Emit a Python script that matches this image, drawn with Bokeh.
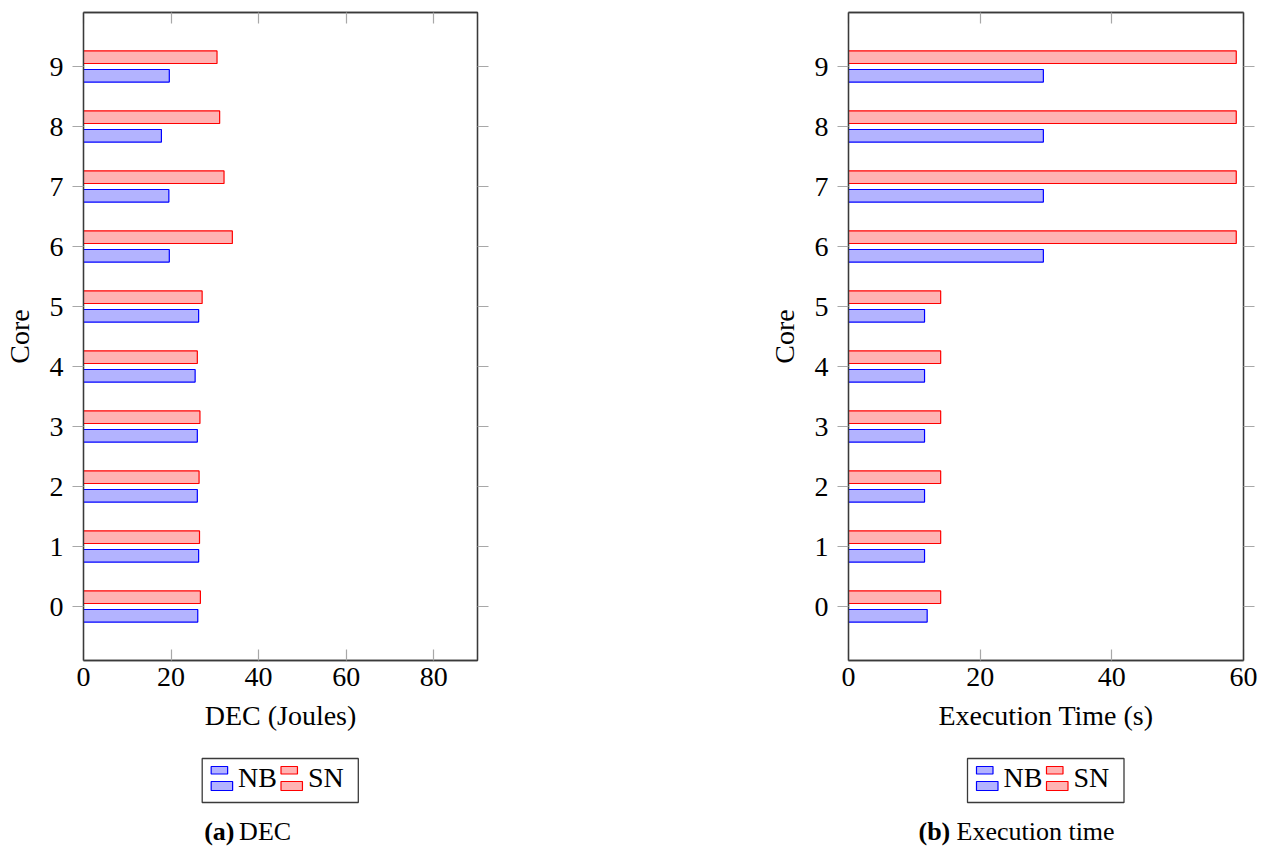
from bokeh.plotting import figure
from bokeh.models import Range1d, LinearAxis, FixedTicker, ColumnDataSource
from bokeh.layouts import row, column
from bokeh.transform import dodge
from bokeh.core.properties import value
from bokeh.embed import file_html
from bokeh.resources import INLINE

# Per-core measurements
cores = [0, 1, 2, 3, 4, 5, 6, 7, 8, 9]
dec_nb = [26.1, 26.3, 26.0, 26.0, 25.5, 26.3, 19.6, 19.5, 17.8, 19.6]
dec_sn = [26.7, 26.5, 26.4, 26.6, 26.0, 27.1, 34.0, 32.1, 31.1, 30.5]
time_nb = [11.95, 11.55, 11.55, 11.55, 11.55, 11.55, 29.6, 29.6, 29.6, 29.6]
time_sn = [14.0, 14.0, 14.0, 14.0, 14.0, 14.0, 58.9, 58.9, 58.9, 58.9]

series_names = ["NB", "SN"]
dec_ticks = [0, 20, 40, 60, 80]
time_ticks = [0, 20, 40, 60]

FONT = "Liberation Serif"
NB_FILL, NB_LINE = "#b3b3ff", "#0000ff"
SN_FILL, SN_LINE = "#ffb3b3", "#ff0000"
FRAME = "#3a3a3a"
TICK = "#a8a8a8"
COL_W, MAIN_H, PAGE_H = 632, 752, 846
KEY_H = PAGE_H - MAIN_H
TEXT_SIZE = "28px"


def style_axis(ax):
    ax.axis_line_color = FRAME
    ax.axis_line_width = 1.3
    ax.major_tick_line_color = TICK
    ax.major_tick_line_width = 1.2
    ax.minor_tick_line_color = None
    ax.major_label_text_font = FONT
    ax.major_label_text_font_size = TEXT_SIZE
    ax.major_label_text_color = "black"
    ax.axis_label_text_font = FONT
    ax.axis_label_text_font_size = TEXT_SIZE
    ax.axis_label_text_font_style = "normal"
    ax.axis_label_text_color = "black"


def mirror_axis(ticks):
    ax = LinearAxis(ticker=FixedTicker(ticks=ticks))
    style_axis(ax)
    ax.major_label_text_color = None
    ax.major_label_text_font_size = "1px"
    ax.major_label_standoff = 0
    return ax


def make_panel(xlabel, xmax, xticks, nb, sn, border_left, border_right):
    src = ColumnDataSource(dict(core=cores, nb=nb, sn=sn))
    p = figure(width=COL_W, height=MAIN_H,
               x_range=Range1d(0, xmax), y_range=Range1d(-0.9, 9.9),
               output_backend="svg", toolbar_location=None,
               min_border_left=border_left, min_border_right=border_right,
               min_border_top=12, min_border_bottom=MAIN_H - 660)
    p.grid.visible = False
    p.outline_line_color = FRAME
    p.outline_line_width = 1.3
    p.background_fill_color = "white"
    p.border_fill_color = "white"

    p.hbar(y=dodge("core", -0.155, range=p.y_range), left=0, right="nb",
           height=0.21, source=src, fill_color=NB_FILL, line_color=NB_LINE,
           line_width=1.2)
    p.hbar(y=dodge("core", 0.155, range=p.y_range), left=0, right="sn",
           height=0.21, source=src, fill_color=SN_FILL, line_color=SN_LINE,
           line_width=1.2)

    # bottom / left axes with labels
    xa = p.xaxis[0]
    xa.ticker = FixedTicker(ticks=xticks)
    xa.axis_label = xlabel
    style_axis(xa)
    xa.major_tick_in = 11
    xa.major_tick_out = 0
    xa.major_label_standoff = 7
    xa.axis_label_standoff = 11

    ya = p.yaxis[0]
    ya.ticker = FixedTicker(ticks=cores)
    ya.axis_label = "Core"
    style_axis(ya)
    ya.major_tick_in = 0
    ya.major_tick_out = 11
    ya.major_label_standoff = 9
    ya.axis_label_standoff = 12

    # mirrored ticks on top and right, without labels
    top = mirror_axis(xticks)
    top.major_tick_in = 11
    top.major_tick_out = 0
    p.add_layout(top, "above")

    right = mirror_axis(cores)
    right.major_tick_in = 0
    right.major_tick_out = 11
    p.add_layout(right, "right")
    return p


def make_key(x0, border_left, border_right, tag, caption, caption_x, caption_gap):
    # data units equal page pixels: x spans the frame, y runs downwards
    k = figure(width=COL_W, height=KEY_H,
               x_range=Range1d(x0 + border_left, x0 + COL_W - border_right),
               y_range=Range1d(PAGE_H, MAIN_H),
               x_axis_type=None, y_axis_type=None,
               output_backend="svg", toolbar_location=None,
               min_border_left=border_left, min_border_right=border_right,
               min_border_top=0, min_border_bottom=0)
    k.grid.visible = False
    k.outline_line_color = None
    cx = x0 + border_left + (COL_W - border_left - border_right) / 2

    # legend box
    k.quad(left=[cx - 78.5], right=[cx + 78], top=[758], bottom=[802],
           fill_color="white", line_color=FRAME, line_width=1.3)
    entries = [(series_names[0], NB_FILL, NB_LINE, cx - 69.5),
               (series_names[1], SN_FILL, SN_LINE, cx + 0.5)]
    for name, fill, line, sx in entries:
        k.quad(left=[sx, sx], right=[sx + 16.5, sx + 21.5],
               top=[766, 781], bottom=[773.5, 790],
               fill_color=fill, line_color=line, line_width=1.2)
        k.text(x=[sx + 27], y=[777], text=[name],
               text_font=value(FONT), text_font_size=TEXT_SIZE,
               text_color="black", text_baseline="middle", text_align="left")

    # caption
    k.text(x=[caption_x], y=[831], text=[tag], text_font=value(FONT),
           text_font_size="26px", text_font_style="bold", text_color="black",
           text_baseline="middle", text_align="left")
    k.text(x=[caption_x + caption_gap], y=[831], text=[caption],
           text_font=value(FONT), text_font_size="26px", text_color="black",
           text_baseline="middle", text_align="left")
    return k


p1 = make_panel("DEC (Joules)", 90, dec_ticks, dec_nb, dec_sn, 82, COL_W - 477)
p2 = make_panel("Execution Time (s)", 60, time_ticks, time_nb, time_sn,
                848 - COL_W, 2 * COL_W - 1243)
k1 = make_key(0, 82, COL_W - 477, "(a)", "DEC", 203, 35)
k2 = make_key(COL_W, 848 - COL_W, 2 * COL_W - 1243, "(b)", "Execution time", 918, 38)

layout = row(column(p1, k1, spacing=0), column(p2, k2, spacing=0), spacing=0)

with open("out.html", "w") as f:
    f.write(file_html(layout, INLINE))
